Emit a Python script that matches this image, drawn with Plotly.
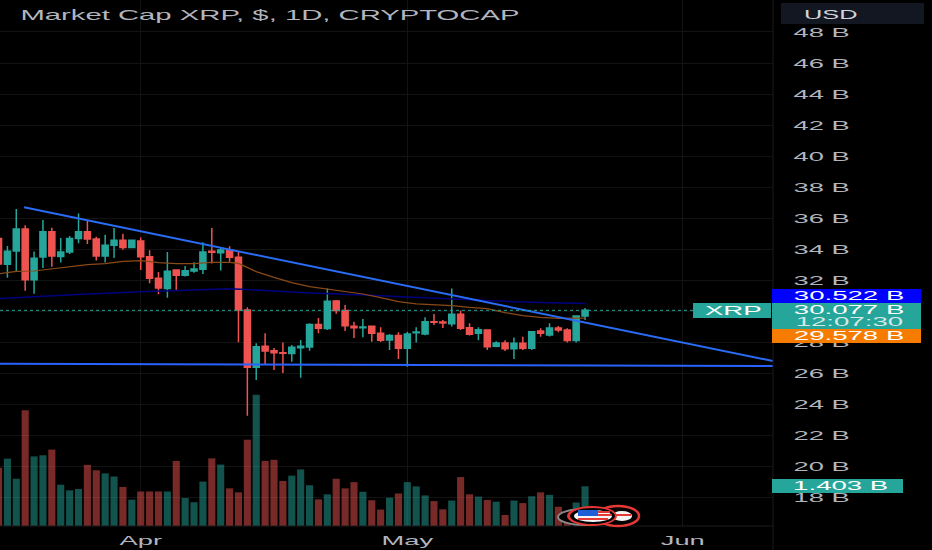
import pandas as pd
import plotly.graph_objects as go

# daily market cap candles, in billions
dates = pd.date_range("2024-03-16", periods=67, freq="D")
opens = [34.71, 33.04, 33.90, 35.31, 32.05, 33.51, 35.14, 33.55, 33.83, 34.71, 35.14, 34.67, 33.58, 34.26, 34.59, 34.13,
         34.54, 33.53, 32.14, 31.49, 32.67, 32.33, 32.61, 32.72, 33.88, 33.79, 33.96, 33.49, 30.10, 26.41, 27.76, 27.48,
         27.35, 27.29, 27.67, 27.72, 29.16, 28.90, 30.68, 30.06, 29.05, 28.96, 29.05, 28.60, 28.17, 28.45,
         27.63, 28.64, 28.55, 29.35, 29.33, 29.22, 29.82, 28.96, 28.60, 28.81, 27.76, 27.97, 27.61, 27.95, 27.63, 28.75,
         28.49, 28.94, 28.81, 28.13, 29.71]
highs = [34.80, 34.22, 36.60, 35.55, 33.86, 35.89, 35.40, 34.73, 34.86, 36.32, 35.85, 34.82, 34.95, 35.38, 35.01, 34.63,
         34.76, 33.94, 32.55, 33.83, 32.67, 32.93, 33.17, 34.46, 35.38, 34.13, 34.20, 33.86, 30.27, 27.95, 28.60, 27.65,
         28.00, 27.85, 28.17, 29.24, 29.58, 31.49, 30.74, 30.42, 29.35, 29.52, 29.07, 28.98, 28.55, 28.66,
         28.70, 28.98, 29.63, 29.84, 29.46, 31.49, 30.06, 29.24, 28.98, 28.81, 28.08, 28.15, 28.32, 28.38, 28.75, 28.92,
         29.24, 29.07, 28.92, 29.73, 30.23]
lows = [33.00, 32.18, 32.59, 31.34, 31.15, 32.80, 32.89, 33.15, 33.71, 34.39, 34.35, 33.28, 33.15, 33.45, 33.98, 34.11,
        32.67, 31.82, 31.11, 30.89, 31.34, 32.25, 32.50, 32.42, 33.10, 32.65, 33.21, 28.02, 23.29, 25.59, 26.56, 26.24,
        26.04, 26.77, 25.74, 27.48, 28.60, 28.81, 29.86, 28.75, 28.30, 28.34, 28.06, 28.04, 27.52, 26.94,
        26.45, 28.00, 28.47, 29.13, 28.94, 29.03, 28.81, 28.45, 28.15, 27.52, 27.70, 27.46, 26.94, 27.52, 27.52, 28.38,
        28.40, 28.66, 28.00, 28.00, 29.46]
closes = [33.06, 33.88, 35.31, 32.05, 33.43, 35.14, 33.58, 33.83, 34.71, 35.14, 34.67, 33.58, 34.26, 34.59, 34.13, 34.59,
          33.53, 32.14, 31.52, 32.59, 32.33, 32.63, 32.74, 33.83, 33.81, 33.96, 33.49, 30.10, 26.41, 27.74, 27.46, 27.35,
          27.31, 27.70, 27.76, 29.16, 28.92, 30.66, 30.06, 29.09, 28.96, 29.00, 28.60, 28.15, 28.45, 27.63,
          28.55, 28.68, 29.35, 29.31, 29.26, 29.82, 28.92, 28.53, 28.83, 27.74, 27.97, 27.61, 27.95, 27.63, 28.70, 28.60,
          28.94, 28.81, 28.13, 29.71, 30.077]
volumes = [2.06, 2.38, 1.67, 4.09, 2.46, 2.50, 2.70, 1.46, 1.26, 1.31, 2.16, 1.97, 1.86, 1.75, 1.38, 0.93,
           1.22, 1.22, 1.22, 1.22, 2.30, 0.99, 0.84, 1.57, 2.39, 2.17, 1.33, 1.19, 3.05, 4.64, 2.30, 2.34,
           1.59, 1.78, 2.00, 1.44, 0.94, 1.12, 1.67, 1.33, 1.55, 1.21, 0.91, 0.58, 1.00, 1.15,
           1.55, 1.40, 1.08, 0.88, 0.59, 0.90, 1.73, 1.12, 1.04, 0.92, 0.86, 0.39, 0.90, 0.81, 1.05, 1.19,
           1.10, 0.68, 0.26, 0.83, 1.403]

# the two moving averages, read every few days
orange_dates = ["2024-03-16", "2024-03-18", "2024-03-20", "2024-03-22", "2024-03-24", "2024-03-26", "2024-03-28",
                "2024-03-30", "2024-04-01", "2024-04-03", "2024-04-05", "2024-04-07", "2024-04-09", "2024-04-11",
                "2024-04-12", "2024-04-13", "2024-04-14", "2024-04-16", "2024-04-18", "2024-04-20", "2024-04-22",
                "2024-04-24", "2024-04-26", "2024-04-28", "2024-04-30", "2024-05-02", "2024-05-04", "2024-05-06",
                "2024-05-08", "2024-05-10", "2024-05-12", "2024-05-14", "2024-05-16", "2024-05-18", "2024-05-20",
                "2024-05-21"]
orange_values = [32.42, 32.59, 32.61, 32.74, 32.85, 33.02, 33.08, 33.23, 33.28, 33.15, 33.08, 33.08, 33.17, 33.17,
                 33.10, 32.85, 32.57, 32.20, 31.86, 31.60, 31.45, 31.28, 31.13, 30.89, 30.64, 30.49, 30.44, 30.38,
                 30.27, 30.19, 29.93, 29.74, 29.63, 29.56, 29.57, 29.578]
navy_dates = ["2024-03-16", "2024-03-20", "2024-03-26", "2024-04-01", "2024-04-08", "2024-04-11", "2024-04-14",
              "2024-04-19", "2024-04-26", "2024-05-04", "2024-05-08", "2024-05-13", "2024-05-17", "2024-05-21"]
navy_values = [30.83, 30.96, 31.13, 31.28, 31.43, 31.47, 31.39, 31.22, 31.07, 30.85, 30.74, 30.63, 30.57, 30.522]

# hand drawn trend lines
top_line_dates = ["2024-03-18 21:00", "2024-06-11 03:36"]
top_line_values = [36.71, 26.81]
low_line_dates = ["2024-03-16 04:00", "2024-06-11 03:36"]
low_line_values = [26.64, 26.49]

price_ticks = [18, 20, 22, 24, 26, 28, 30, 32, 34, 36, 38, 40, 42, 44, 46, 48]
month_ticks = ["2024-04-01", "2024-05-01", "2024-06-01"]
month_labels = ["Apr", "May", "Jun"]

GREEN = "#26a69a"
RED = "#ef5350"
GRID = "#131313"
TEXT = "#b2b5be"
FONT = "Liberation Sans"
W, H = 773, 526  # plot area in pixels


def px(x):
    return x / W


def py(y):
    return 1 - y / H


def box(x0, y0, x1, y1, color, kind="rect", line=None, width=0):
    return dict(type=kind, xref="paper", yref="paper", x0=px(x0), x1=px(x1), y0=py(y0), y1=py(y1),
                fillcolor=color, line=dict(color=line or color, width=width), layer="above")


def label(x, y, text, color="#ffffff", size=12):
    return dict(xref="paper", yref="paper", x=px(x), y=py(y), text=text, showarrow=False, xanchor="center",
                yanchor="middle", font=dict(family=FONT, size=size, color=color))


bar_colors = ["rgba(38,166,154,0.5)" if c >= o else "rgba(239,83,80,0.5)" for o, c in zip(opens, closes)]

fig = go.Figure()
fig.add_trace(go.Bar(x=dates, y=volumes, marker=dict(color=bar_colors, line=dict(width=0)), yaxis="y",
                     hoverinfo="skip"))
fig.add_trace(go.Scatter(x=navy_dates, y=navy_values, mode="lines", line=dict(color="#00007f", width=1.5), yaxis="y2"))
fig.add_trace(go.Scatter(x=orange_dates, y=orange_values, mode="lines", line=dict(color="#8a4a18", width=1.2),
                         yaxis="y2"))
fig.add_trace(go.Scatter(x=low_line_dates, y=low_line_values, mode="lines", line=dict(color="#2962ff", width=2),
                         yaxis="y2"))
fig.add_trace(go.Candlestick(x=dates, open=opens, high=highs, low=lows, close=closes, yaxis="y2", whiskerwidth=0,
                             increasing=dict(line=dict(color=GREEN, width=1.5), fillcolor=GREEN),
                             decreasing=dict(line=dict(color=RED, width=1.5), fillcolor=RED)))
fig.add_trace(go.Scatter(x=top_line_dates, y=top_line_values, mode="lines", line=dict(color="#2a6cf5", width=2),
                         yaxis="y2"))

fig.add_hline(y=closes[-1], yref="y2", line=dict(color=GREEN, width=1, dash="dot"))

shapes = [
    # axis separators
    dict(type="line", xref="paper", yref="paper", x0=1, x1=1, y0=py(550), y1=1, line=dict(color="#1c1c1c", width=1)),
    dict(type="line", xref="paper", yref="paper", x0=0, x1=1, y0=0, y1=0, line=dict(color="#1c1c1c", width=1)),
    # USD button and price tags
    box(781, 3, 924, 24, "#131722"),
    box(772, 289, 921, 303, "#0000ff"),
    box(772, 303, 921, 329, GREEN),
    box(772, 329, 921, 343, "#f57c00"),
    box(693, 303, 771, 318, GREEN),
    box(772, 479, 903, 493, GREEN),
    # flag logo
    box(558, 509, 612, 525, "#000000", "circle", "#8a8a8a", 2),
    box(597, 506, 639, 526, "#000000", "circle", "#e53935", 2.5),
    box(612, 511, 632, 521, "#f4f4f4", "circle"),
    box(612, 514, 631, 516, "#e53935"),
    box(567, 506, 617, 526, "#e53935", "circle"),
    box(570, 508, 615, 524, "#000000", "circle"),
    box(574, 510, 612, 522, "#f4f4f4", "circle"),
    box(578, 510, 598, 516, "#1e5fd8"),
    box(598, 511, 610, 513, "#e53935"),
    box(598, 514, 612, 516, "#e53935"),
    box(578, 518, 608, 520, "#e53935"),
]

annotations = [
    label(270, 14, "Market Cap XRP, $, 1D, CRYPTOCAP", TEXT, 15),
    label(831, 14, "USD", "#d1d4dc", 13),
    label(733, 311, "XRP"),
    label(849, 296, "30.522 B"),
    label(849, 310, "30.077 B"),
    label(849, 322, "12:07:30", "#d8e8e6"),
    label(849, 336.5, "29.578 B"),
    label(840, 486, "1.403 B"),
]

fig.update_layout(
    width=932,
    height=550,
    margin=dict(l=0, r=159, t=0, b=24),
    paper_bgcolor="#000000",
    plot_bgcolor="#000000",
    showlegend=False,
    bargap=0.2,
    boxgap=0.32,
    boxgroupgap=0,
    shapes=list(fig.layout.shapes) + shapes,
    annotations=annotations,
    xaxis=dict(
        type="date",
        range=["2024-03-16 04:00", "2024-06-11 03:36"],
        rangeslider=dict(visible=False),
        tickvals=month_ticks,
        ticktext=month_labels,
        tickfont=dict(family=FONT, size=13, color=TEXT),
        ticks="outside",
        ticklen=2,
        tickcolor="#000000",
        showgrid=True,
        gridcolor=GRID,
        zeroline=False,
    ),
    yaxis=dict(range=[0, 18.59], visible=False, showgrid=False, fixedrange=True),
    yaxis2=dict(
        overlaying="y",
        side="right",
        range=[16.19, 50.06],
        tickvals=price_ticks,
        # 30 B sits fully under the price tag in the reference
        ticktext=["" if t == 30 else f"{t} B" for t in price_ticks],
        tickfont=dict(family=FONT, size=13, color=TEXT),
        ticks="outside",
        ticklen=17,
        tickcolor="#000000",
        showgrid=True,
        gridcolor=GRID,
        zeroline=False,
    ),
)

# the screenshot is stretched sideways, so widen every label the same way
stretch = """
document.body.style.margin = '0';
document.documentElement.style.background = '#000';
document.querySelectorAll('svg text').forEach(function (t) {
    var k = 2.1;
    if (t.classList.contains('annotation-text')) {
        k = parseFloat(t.style.fontSize) < 13 ? 2.3 : 1.95;
    }
    t.setAttribute('lengthAdjust', 'spacingAndGlyphs');
    t.setAttribute('textLength', t.getComputedTextLength() * k);
});
"""

fig.write_html("out.html", post_script=stretch, config=dict(displayModeBar=False))
